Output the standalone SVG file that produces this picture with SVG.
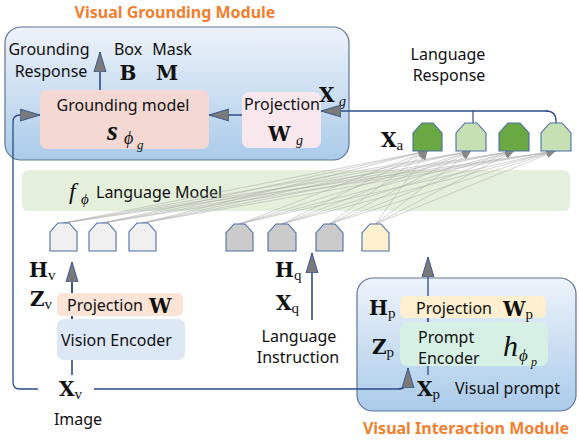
<svg xmlns="http://www.w3.org/2000/svg" width="579" height="440" viewBox="0 0 579 440">
<defs>
<linearGradient id="modg" x1="0" y1="0" x2="0" y2="1">
<stop offset="0" stop-color="#eef3fa"/>
<stop offset="1" stop-color="#aacbea"/>
</linearGradient>
<marker id="ah" viewBox="0 0 10 10" refX="10" refY="5" markerWidth="9" markerHeight="9" markerUnits="userSpaceOnUse" orient="auto">
<path d="M0,1 L10,5 L0,9 z" fill="#888"/>
</marker>
<marker id="big" viewBox="0 0 20 14" refX="20" refY="7" markerWidth="20" markerHeight="14" markerUnits="userSpaceOnUse" orient="auto">
<path d="M0,1 L20,7 L0,13 z" fill="#7a7a7a" stroke="#3b5a92" stroke-width="1"/>
</marker>
</defs>
<style>
.t{font-family:"Noto Sans","Open Sans",sans-serif;font-size:16px;fill:#111}
.ttl{font-family:"Noto Sans","Open Sans",sans-serif;font-size:16px;font-weight:bold;fill:#f07f2f}
.m{font-family:"DejaVu Serif","Liberation Serif",serif;font-weight:bold;font-size:20px;fill:#111}
.sub{font-family:"Liberation Serif","DejaVu Serif",serif;font-weight:normal;font-size:15px;fill:#111}
.it{font-family:"Liberation Serif","DejaVu Serif",serif;font-style:italic;fill:#111}
.mod{fill:url(#modg);stroke:#5f7595;stroke-width:1.2}
.tok{stroke:#4a6ea8;stroke-width:1.1}
.c{fill:none;stroke:#2b4c8a;stroke-width:1.6}
.fan{stroke:#a8a8a8;stroke-width:0.5;fill:none}
</style>

<text class="ttl" x="175" y="18" text-anchor="middle">Visual Grounding Module</text>
<text class="ttl" x="466" y="434" text-anchor="middle">Visual Interaction Module</text>

<g id="visual-grounding-module"><rect class="mod" x="5" y="27" width="344" height="133" rx="16"/></g>
<g id="visual-interaction-module"><rect class="mod" x="357" y="278" width="219" height="133" rx="16"/></g>

<g id="language-model">
<rect x="22" y="170" width="548" height="41" rx="6" fill="#e4efdc"/>
<text class="it" x="69" y="199" font-size="24">f</text>
<text class="it" x="81" y="204" font-size="15">ϕ</text>
<text class="t" x="96" y="198" font-size="15">Language Model</text>
</g>

<g id="grounding-model">
<rect x="40" y="90" width="169" height="59" rx="7" fill="#f4d8d3"/>
<text class="t" x="123" y="111" text-anchor="middle">Grounding model</text>
<text class="it" x="107" y="140" font-size="28" font-weight="bold">s</text>
<text class="it" x="124" y="144" font-size="18">ϕ</text>
<text class="it" x="137" y="149" font-size="13">g</text>
</g>

<g id="projection-wg">
<rect x="242" y="92" width="79" height="56" rx="7" fill="#f8e8ee"/>
<text class="t" x="282" y="110" text-anchor="middle">Projection</text>
<text class="m" x="268" y="141" font-size="22">W</text>
<text class="it" x="296" y="145" font-size="14">g</text>
</g>

<g id="grounding-response">
<text class="t" x="49" y="55" text-anchor="middle">Grounding</text>
<text class="t" x="51" y="77" text-anchor="middle">Response</text>
<text class="t" x="128" y="55" text-anchor="middle">Box</text>
<text class="t" x="172" y="55" text-anchor="middle">Mask</text>
<text class="m" x="128" y="80" text-anchor="middle">B</text>
<text class="m" x="167" y="80" text-anchor="middle">M</text>
</g>

<g id="xg-label"><text class="m" x="319" y="102">X</text><text class="it" x="339" y="106" font-size="14">g</text></g>

<g id="language-response">
<text class="t" x="448" y="60" text-anchor="middle">Language</text>
<text class="t" x="449" y="81" text-anchor="middle">Response</text>
</g>
<g id="xa-label"><text class="m" x="381" y="147">X<tspan class="sub" dy="3">a</tspan></text></g>

<g id="connectors">
<g class="fan" marker-end="url(#ah)">
<line x1="63.5" y1="223" x2="427.5" y2="151"/><line x1="63.5" y1="223" x2="471" y2="151"/><line x1="63.5" y1="223" x2="514" y2="151"/><line x1="63.5" y1="223" x2="555.5" y2="151"/>
<line x1="102.5" y1="223" x2="427.5" y2="151"/><line x1="102.5" y1="223" x2="471" y2="151"/><line x1="102.5" y1="223" x2="514" y2="151"/><line x1="102.5" y1="223" x2="555.5" y2="151"/>
<line x1="142.5" y1="223" x2="427.5" y2="151"/><line x1="142.5" y1="223" x2="471" y2="151"/><line x1="142.5" y1="223" x2="514" y2="151"/><line x1="142.5" y1="223" x2="555.5" y2="151"/>
<line x1="239.5" y1="224" x2="427.5" y2="151"/><line x1="239.5" y1="224" x2="471" y2="151"/><line x1="239.5" y1="224" x2="514" y2="151"/><line x1="239.5" y1="224" x2="555.5" y2="151"/>
<line x1="282" y1="224" x2="427.5" y2="151"/><line x1="282" y1="224" x2="471" y2="151"/><line x1="282" y1="224" x2="514" y2="151"/><line x1="282" y1="224" x2="555.5" y2="151"/>
<line x1="329.5" y1="224" x2="427.5" y2="151"/><line x1="329.5" y1="224" x2="471" y2="151"/><line x1="329.5" y1="224" x2="514" y2="151"/><line x1="329.5" y1="224" x2="555.5" y2="151"/>
<line x1="375.5" y1="224" x2="427.5" y2="151"/><line x1="375.5" y1="224" x2="471" y2="151"/><line x1="375.5" y1="224" x2="514" y2="151"/><line x1="375.5" y1="224" x2="555.5" y2="151"/>
</g>
<path class="c" d="M100,90 V52" marker-end="url(#big)"/>
<path class="c" d="M242,115 H209" marker-end="url(#big)"/>
<path class="c" d="M548,111 H321" marker-end="url(#big)" style="stroke-width:1.3"/>
<path class="c" d="M473,111 V123" style="stroke-width:1.2"/>
<path class="c" d="M546,111 Q556,111 556,121 V123" style="stroke-width:1.3"/>
<path class="c" d="M38,389 H20 Q13,389 13,382 V122 Q13,115 20,115 H40" marker-end="url(#big)" style="stroke-width:1.3"/>
<path class="c" d="M94,389 H398 Q408,389 408,379 V368" marker-end="url(#big)"/>
<path class="c" d="M72,375 V283"/>
<path class="c" d="M72,295 V262" marker-end="url(#big)"/>
<path class="c" d="M312,320 V253" marker-end="url(#big)"/>
<path class="c" d="M428,375 V257" marker-end="url(#big)" style="stroke-width:1.3"/>
</g>

<g id="tokens-v">
<path class="tok" fill="#f0f0f0" d="M50,251 V232 L58,223 H69 L77,232 V251 Z"/>
<path class="tok" fill="#f0f0f0" d="M89,251 V232 L97,223 H108 L116,232 V251 Z"/>
<path class="tok" fill="#f0f0f0" d="M129,251 V232 L137,223 H148 L156,232 V251 Z"/>
</g>
<g id="tokens-q">
<path class="tok" fill="#cbcbcb" d="M226,251 V233 L234,224 H245 L253,233 V251 Z"/>
<path class="tok" fill="#cbcbcb" d="M268,251 V233 L276,224 H288 L296,233 V251 Z"/>
<path class="tok" fill="#cbcbcb" d="M316,251 V233 L324,224 H335 L343,233 V251 Z"/>
</g>
<g id="token-p">
<path class="tok" fill="#fff1cf" d="M362,251 V233 L370,224 H381 L389,233 V251 Z"/>
</g>
<g id="tokens-a">
<path class="tok" fill="#6aa843" d="M413,151 V133 L422,123 H433 L442,133 V151 Z"/>
<path class="tok" fill="#c6e0b4" d="M456,151 V133 L465,123 H477 L486,133 V151 Z"/>
<path class="tok" fill="#6aa843" d="M499,151 V133 L508,123 H520 L529,133 V151 Z"/>
<path class="tok" fill="#c6e0b4" d="M541,151 V133 L550,123 H562 L571,133 V151 Z"/>
</g>

<g id="vision-branch">
<text class="m" x="29" y="277">H<tspan class="sub" dy="3">v</tspan></text>
<text class="m" x="30" y="306">Z<tspan class="sub" dy="3">v</tspan></text>
<rect x="57" y="293" width="126" height="23" rx="5" fill="#fbe4d5"/>
<rect x="57" y="319" width="128" height="41" rx="7" fill="#dce8f5"/>
<path class="c" d="M72,316 V319"/>
<text class="t" x="67" y="311">Projection</text>
<text class="m" x="149" y="313">W</text>
<text class="t" x="61" y="346">Vision Encoder</text>
<text class="m" x="59" y="396">X<tspan class="sub" dy="3">v</tspan></text>
<text class="t" x="78" y="425" text-anchor="middle">Image</text>
</g>

<g id="language-branch">
<text class="m" x="275" y="277">H<tspan class="sub" dy="3">q</tspan></text>
<text class="m" x="276" y="310">X<tspan class="sub" dy="3">q</tspan></text>
<text class="t" x="299" y="342" text-anchor="middle">Language</text>
<text class="t" x="298" y="363" text-anchor="middle">Instruction</text>
</g>

<g id="prompt-branch">
<rect x="400" y="296" width="146" height="22" rx="5" fill="#fdefcf"/>
<rect x="400" y="322" width="148" height="44" rx="7" fill="#d6f0e6"/>
<path d="M428,318 V322" stroke="#2b4c8a" stroke-width="1.3"/>
<text class="m" x="369" y="315">H<tspan class="sub" dy="3">p</tspan></text>
<text class="t" x="416" y="314">Projection</text>
<text class="m" x="503" y="316">W<tspan class="sub" dy="3">p</tspan></text>
<text class="m" x="372" y="354">Z<tspan class="sub" dy="3">p</tspan></text>
<text class="t" x="418" y="343">Prompt</text>
<text class="t" x="418" y="364">Encoder</text>
<text class="it" x="503" y="356" font-size="30">h</text>
<text class="it" x="519" y="361" font-size="17">ϕ</text>
<text class="it" x="531" y="366" font-size="12">p</text>
<text class="m" x="417" y="396">X<tspan class="sub" dy="3">p</tspan></text>
<text class="t" x="455" y="394">Visual prompt</text>
</g>
</svg>
